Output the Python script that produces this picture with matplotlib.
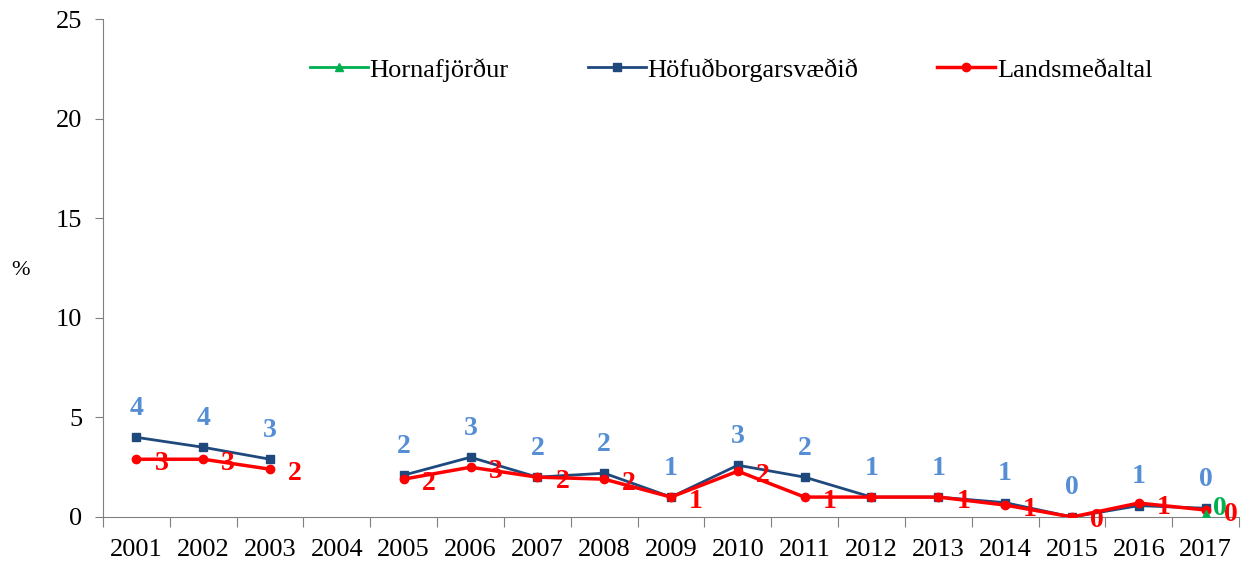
import numpy as np
import matplotlib
matplotlib.use('Agg')
import matplotlib.pyplot as plt

years = ['2001', '2002', '2003', '2004', '2005', '2006', '2007', '2008', '2009',
         '2010', '2011', '2012', '2013', '2014', '2015', '2016', '2017']
nan = np.nan
hornafjordur = [nan] * 16 + [0.15]
hofudborg = [4.0, 3.5, 2.9, nan, 2.1, 3.0, 2.0, 2.2, 1.0, 2.6, 2.0, 1.0, 1.0, 0.72, 0.0, 0.57, 0.44]
lands = [2.9, 2.9, 2.4, nan, 1.9, 2.5, 2.0, 1.9, 1.0, 2.3, 1.0, 1.0, 1.0, 0.6, 0.0, 0.7, 0.35]

# data labels as shown in the chart (2012 has no label for landsmeðaltal)
horna_lbl = [None] * 16 + ['0']
hofud_lbl = ['4', '4', '3', None, '2', '3', '2', '2', '1', '3', '2', '1', '1', '1', '0', '1', '0']
lands_lbl = ['3', '3', '2', None, '2', '3', '2', '2', '1', '2', '1', None, '1', '1', '0', '1', '0']

plt.rcParams['font.family'] = ['Liberation Serif', 'DejaVu Serif']

blue = '#1F497D'
blue_lbl = '#558ED5'
red = '#FF0000'
green = '#00B050'

fig = plt.figure(figsize=(12.57, 5.68), dpi=100)
ax = fig.add_axes([0.0819, 0.0898, 0.9038, 0.8767])

x = np.arange(len(years))

ax.plot(x, hofudborg, color=blue, lw=2, marker='s', ms=6, label='Höfuðborgarsvæðið', zorder=3)
ax.plot(x, lands, color=red, lw=2.5, marker='o', ms=6, label='Landsmeðaltal', zorder=4)
ax.plot(x, hornafjordur, color=green, lw=2, marker='^', ms=6, label='Hornafjörður', zorder=5)

for i in range(len(years)):
    if hofud_lbl[i] is not None:
        ax.annotate(hofud_lbl[i], (x[i], hofudborg[i]), xytext=(0, 29),
                    textcoords='offset pixels', ha='center', va='center',
                    color=blue_lbl, fontsize=20, fontweight='bold', zorder=6)
    if lands_lbl[i] is not None:
        ax.annotate(lands_lbl[i], (x[i], lands[i]), xytext=(25, -4),
                    textcoords='offset pixels', ha='center', va='center',
                    color=red, fontsize=20, fontweight='bold', zorder=6)
    if horna_lbl[i] is not None:
        ax.annotate(horna_lbl[i], (x[i], hornafjordur[i]), xytext=(14, 6),
                    textcoords='offset pixels', ha='center', va='center',
                    color=green, fontsize=20, fontweight='bold', zorder=6)

ax.set_xlim(-0.5, len(years) - 0.5)
ax.set_ylim(0, 25)
ax.set_yticks([0, 5, 10, 15, 20, 25])
ax.set_xticks(np.arange(-0.5, len(years)), [])
ax.set_xticks(x, years, minor=True)
ax.tick_params(axis='x', which='minor', length=0, labelsize=19, pad=16)
ax.tick_params(axis='x', which='major', length=7, color='#808080')
ax.tick_params(axis='y', length=6, labelsize=19, color='#808080', pad=9)

for s in ['top', 'right']:
    ax.spines[s].set_visible(False)
for s in ['left', 'bottom']:
    ax.spines[s].set_color('#808080')

ax.set_ylabel('%', rotation=0, fontsize=16, va='center', ha='center')
ax.yaxis.set_label_coords(-0.073, 0.496)

handles, labels = ax.get_legend_handles_labels()
order = [2, 0, 1]
ax.legend([handles[k] for k in order], [labels[k] for k in order], ncol=3,
          frameon=False, fontsize=19, loc='center', bbox_to_anchor=(0.553, 0.898),
          handlelength=2.2, handletextpad=0.05, columnspacing=3.0)

fig.savefig('out.png', dpi=100)
